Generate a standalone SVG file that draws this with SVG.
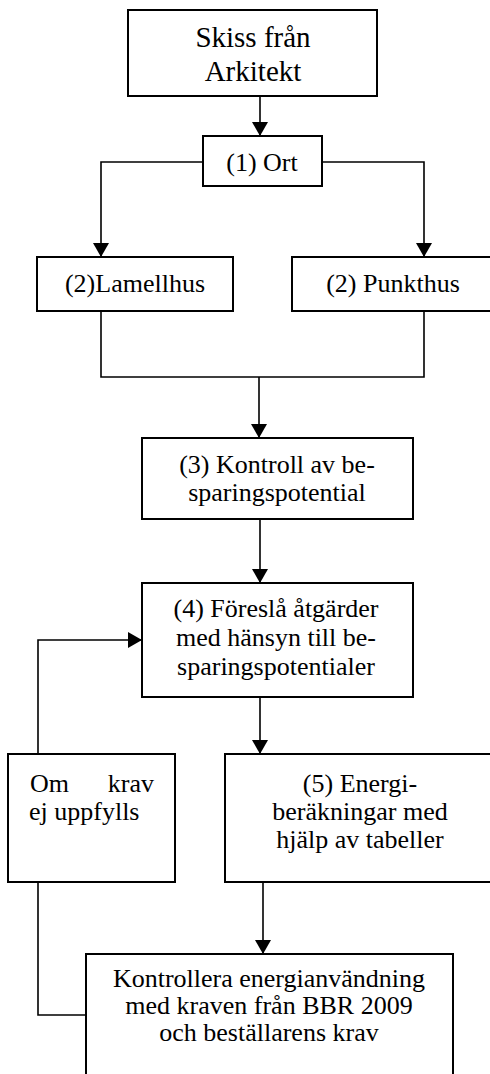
<svg xmlns="http://www.w3.org/2000/svg" width="490" height="1074" viewBox="0 0 490 1074">
  <style>
    .box { fill: #ffffff; stroke: #000000; stroke-width: 2; }
    .link { fill: none; stroke: #000000; stroke-width: 1.6; }
    text { font-family: "Liberation Serif", "Times New Roman", serif; font-size: 26px; fill: #000000; }
    .c { text-anchor: middle; }
    .big { font-size: 29px; }
  </style>
  <defs>
    <marker id="arrow" markerUnits="userSpaceOnUse" markerWidth="16" markerHeight="16" viewBox="0 0 14 16" refX="14" refY="8" orient="auto">
      <path d="M0,0 L14,8 L0,16 Z" fill="#000000"/>
    </marker>
  </defs>
  <rect width="490" height="1074" fill="#ffffff"/>

  <!-- connectors -->
  <g id="connectors">
    <path class="link" d="M260,96 V136" marker-end="url(#arrow)"/>
    <path class="link" d="M203,162 H101 V257" marker-end="url(#arrow)"/>
    <path class="link" d="M322,162 H424 V257" marker-end="url(#arrow)"/>
    <path class="link" d="M101,311 V377 H424 V311"/>
    <path class="link" d="M259,377 V438" marker-end="url(#arrow)"/>
    <path class="link" d="M260,519 V583" marker-end="url(#arrow)"/>
    <path class="link" d="M260,697 V754" marker-end="url(#arrow)"/>
    <path class="link" d="M38,754 V640 H142" marker-end="url(#arrow)"/>
    <path class="link" d="M263,882 V954" marker-end="url(#arrow)"/>
    <path class="link" d="M38,882 V1015 H86"/>
  </g>

  <!-- nodes -->
  <g id="skiss">
    <rect class="box" x="128" y="10" width="249" height="86"/>
    <text class="c big" x="253" y="47">Skiss från</text>
    <text class="c big" x="253" y="81">Arkitekt</text>
  </g>
  <g id="ort">
    <rect class="box" x="203" y="136" width="119" height="50"/>
    <text class="c" x="262" y="171">(1) Ort</text>
  </g>
  <g id="lamellhus">
    <rect class="box" x="37" y="257" width="196" height="54"/>
    <text class="c" x="135" y="292">(2)Lamellhus</text>
  </g>
  <g id="punkthus">
    <rect class="box" x="292" y="257" width="210" height="54"/>
    <text class="c" x="393" y="292">(2) Punkthus</text>
  </g>
  <g id="kontroll">
    <rect class="box" x="142" y="438" width="271" height="81"/>
    <text class="c" x="277" y="473">(3) Kontroll av be-</text>
    <text class="c" x="277" y="501">sparingspotential</text>
  </g>
  <g id="atgarder">
    <rect class="box" x="142" y="583" width="271" height="114"/>
    <text class="c" x="276" y="617">(4) Föreslå åtgärder</text>
    <text class="c" x="276" y="646">med hänsyn till be-</text>
    <text class="c" x="276" y="675">sparingspotentialer</text>
  </g>
  <g id="ej-uppfylls">
    <rect class="box" x="8" y="754" width="167" height="128"/>
    <text x="30" y="792">Om</text>
    <text x="154" y="792" text-anchor="end">krav</text>
    <text x="29" y="820">ej uppfylls</text>
  </g>
  <g id="energiberakningar">
    <rect class="box" x="225" y="754" width="280" height="128"/>
    <text class="c" x="360" y="792">(5) Energi-</text>
    <text class="c" x="360" y="820">beräkningar med</text>
    <text class="c" x="360" y="848">hjälp av tabeller</text>
  </g>
  <g id="kontrollera">
    <rect class="box" x="86" y="954" width="367" height="130"/>
    <text class="c" x="269" y="987">Kontrollera energianvändning</text>
    <text class="c" x="269" y="1014">med kraven från BBR 2009</text>
    <text class="c" x="269" y="1041">och beställarens krav</text>
  </g>
</svg>
